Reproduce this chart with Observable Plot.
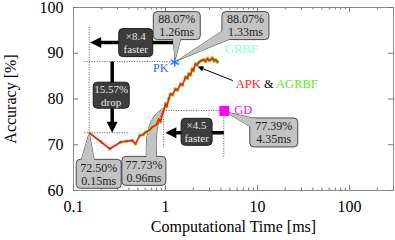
<!DOCTYPE html>
<html><head><meta charset="utf-8">
<script src="https://cdn.jsdelivr.net/npm/d3@7"></script>
<script src="https://cdn.jsdelivr.net/npm/@observablehq/plot@0.6"></script>
<style>body{margin:0;background:#fff} #chart svg{display:block}</style>
</head><body><div id="chart"></div>
<script>
// ---- data ----
const curveTime = [0.15, 0.20, 0.248, 0.324, 0.377, 0.435, 0.472, 0.526, 0.573, 0.607, 0.675, 0.716, 0.798, 0.846, 0.88, 0.96, 1.0, 1.03, 1.087, 1.13, 1.19, 1.28, 1.35, 1.46, 1.53, 1.65, 1.73, 1.79, 1.87, 1.95, 2.01, 2.12, 2.20, 2.30, 2.46, 2.61, 2.72, 2.86, 3.01, 3.22, 3.37, 3.49, 3.67];
const curveAcc  = [72.5, 70.6, 69.1, 70.56, 70.78, 70.93, 70.2, 72.0, 72.24, 72.74, 73.27, 73.84, 74.36, 75.67, 75.0, 77.73, 78.95, 78.3, 80.04, 81.1, 80.9, 82.2, 81.97, 83.3, 83.06, 84.8, 84.5, 85.5, 85.25, 86.6, 86.2, 87.7, 87.4, 88.05, 88.4, 88.6, 88.2, 88.85, 88.4, 88.96, 88.3, 88.6, 88.1];
const pkTime = 1.26, grbfTime = 1.33, peakAcc = 88.07;
const startTime = 0.15, startAcc = 72.50;
const kneeTime = 0.96, kneeAcc = 77.73;
const gdTime = 4.35, gdAcc = 77.39;
const dropLabel = ["15.57%", "drop"];
const fastPK = ["\u00d78.4", "faster"];
const fastGD = ["\u00d74.5", "faster"];
const xTickValues = [0.1, 1, 10, 100];
const xMinorTicks = [0.2,0.3,0.4,0.5,0.6,0.7,0.8,0.9,2,3,4,5,6,7,8,9,20,30,40,50,60,70,80,90,200,300];
const yTickValues = [60, 70, 80, 90, 100];

const FONT = "Liberation Serif, Times New Roman, serif";
const curve = curveTime.map((t, i) => ({t, acc: curveAcc[i]}));
const fmtMs = v => v.toFixed(2) + "ms";
const fmtPct = v => v.toFixed(2) + "%";

function annotate(index, scales) {
  const X = scales.x, Y = scales.y;
  const g = d3.create("svg:g").attr("font-family", FONT).attr("text-anchor", "middle");
  const dotted = (x1, y1, x2, y2) => g.append("line").attr("x1", x1).attr("y1", y1).attr("x2", x2).attr("y2", y2)
    .attr("stroke", "#555").attr("stroke-width", 1).attr("stroke-dasharray", "1,1.5");
  const arrow = (x1, y1, x2, y2, w, hl, hw) => {
    const dx = x2 - x1, dy = y2 - y1, L = Math.hypot(dx, dy), ux = dx / L, uy = dy / L;
    const bx = x2 - ux * hl, by = y2 - uy * hl;
    g.append("line").attr("x1", x1).attr("y1", y1).attr("x2", bx + ux).attr("y2", by + uy)
      .attr("stroke", "#000").attr("stroke-width", w);
    g.append("path").attr("d", `M${x2},${y2}L${bx - uy * hw},${by + ux * hw}L${bx + uy * hw},${by - ux * hw}Z`).attr("fill", "#000");
  };
  const twoLines = (cx, cy, lines, size, color) => {
    lines.forEach((s, i) => g.append("text").attr("x", cx).attr("y", cy + (i === 0 ? -6.5 : 6.5)).attr("dy", "0.35em")
      .attr("text-anchor", "middle").attr("font-size", size).attr("fill", color).text(s));
  };
  const callout = (cx, cy, w, h, lines, tail) => {
    g.append("path").attr("d", tail).attr("fill", "#c3c3c3").attr("stroke", "#3a3a3a").attr("stroke-width", 0.9);
    g.append("rect").attr("x", cx - w / 2).attr("y", cy - h / 2).attr("width", w).attr("height", h).attr("rx", 4)
      .attr("fill", "#c3c3c3").attr("stroke", "#3a3a3a").attr("stroke-width", 0.9);
    g.append("path").attr("d", tail).attr("fill", "#c3c3c3").attr("stroke", "none");
    twoLines(cx, cy, lines, 12, "#222");
  };
  const darkBox = (cx, cy, w, h, lines) => {
    g.append("rect").attr("x", cx - w / 2).attr("y", cy - h / 2).attr("width", w).attr("height", h).attr("rx", 4)
      .attr("fill", "#3d3d3d").attr("stroke", "#1e1e1e").attr("stroke-width", 1);
    twoLines(cx, cy, lines, 11, "#e6e6e6");
  };
  const P = [X(pkTime), Y(peakAcc)], Q = [X(grbfTime), Y(peakAcc)];
  const S = [X(startTime), Y(startAcc)], K = [X(kneeTime), Y(kneeAcc)], G = [X(gdTime), Y(gdAcc)];

  // dotted guides
  dotted(S[0], S[1], S[0], P[1] - 35);
  dotted(S[0] - 5, P[1], P[0], P[1]);
  dotted(S[0] - 5, S[1], S[0] + 40, S[1]);
  dotted(K[0], K[1], K[0], K[1] + 40);
  dotted(K[0], G[1], G[0], G[1]);
  dotted(G[0], G[1], G[0], G[1] + 46);

  // arrows + dark boxes
  const yA = P[1] - 19;
  arrow(P[0] - 1, yA, S[0] + 1, yA, 3.5, 11, 5.5);
  darkBox((P[0] + S[0]) / 2 + 4, yA, 34, 28, fastPK);
  const xB = S[0] + 23;
  arrow(xB, P[1], xB, S[1], 3.5, 11, 5.5);
  darkBox(xB - 1, (P[1] + S[1]) / 2 - 2, 36, 26, dropLabel);
  const yC = S[1];
  arrow(G[0], yC, K[0] + 2, yC, 3.5, 11, 5.5);
  darkBox((G[0] + K[0]) / 2 + 3, yC - 1, 31, 27, fastGD);

  // callouts
  {
    const cx = P[0] + 2.5, cy = P[1] - 36, w = 47, h = 28, b = cy + h / 2;
    callout(cx, cy, w, h, [fmtPct(peakAcc), fmtMs(pkTime)], `M${cx - 4},${b - 1}L${P[0] + 1},${P[1] - 2}L${cx + 4},${b - 1}Z`);
  }
  {
    const cx = Q[0] + 69, cy = Q[1] - 36, w = 47, h = 28, l = cx - w / 2, b = cy + h / 2;
    callout(cx, cy, w, h, [fmtPct(peakAcc), fmtMs(grbfTime)], `M${l + 1},${b - 9}L${Q[0] + 1},${Q[1] - 1}L${l + 9},${b - 1}Z`);
  }
  {
    const cx = S[0] + 9.5, cy = S[1] + 41, w = 45, h = 29, t = cy - h / 2;
    callout(cx, cy, w, h, [fmtPct(startAcc), fmtMs(startTime)], `M${S[0] - 8},${t + 1}L${S[0]},${S[1]}L${S[0] + 5},${t + 1}Z`);
  }
  {
    const cx = K[0] - 19.5, cy = K[1] + 62, w = 44, h = 29, t = cy - h / 2;
    callout(cx, cy, w, h, [fmtPct(kneeAcc), fmtMs(kneeTime)],
      `M${K[0] - 17},${t + 1}Q${K[0] - 19},${K[1] + 8} ${K[0]},${K[1]}Q${K[0] - 9},${K[1] + 16} ${K[0] - 7},${t + 1}Z`);
  }
  {
    const cx = G[0] + 50, cy = G[1] + 22, w = 48, h = 29, l = cx - w / 2, t = cy - h / 2;
    callout(cx, cy, w, h, [fmtPct(gdAcc), fmtMs(gdTime)], `M${l + 1},${t + 9}L${G[0] + 2},${G[1] + 1.5}L${l + 7},${t + 1}Z`);
  }

  // APK & AGRBF label with thin arrow
  const lx = G[0] + 12, ly = P[1] + 22;
  const txt = g.append("text").attr("x", lx).attr("y", ly).attr("dy", "0.35em").attr("font-size", 12.5).attr("text-anchor", "start");
  txt.append("tspan").attr("fill", "#ff1a1a").text("APK");
  txt.append("tspan").attr("fill", "#000").text(" & ");
  txt.append("tspan").attr("fill", "#55ee22").text("AGRBF");
  arrow(lx - 3, ly - 3, X(2.25), Y(peakAcc) + 5, 1, 6, 2.6);
  return g.node();
}

const W = 395, H = 240, mL = 73, mR = 2, mT = 7, mB = 50;
const fw = W - mL - mR, fh = H - mT - mB;

const chart = Plot.plot({
  width: W, height: H,
  marginLeft: mL, marginRight: mR, marginTop: mT, marginBottom: mB,
  x: {type: "log", domain: [0.1, 300]},
  y: {domain: [60, 100]},
  style: {fontFamily: FONT, fontSize: "16px", background: "#fff", color: "#000"},
  marks: [
    Plot.frame({stroke: "#8c8c8c"}),
    Plot.tickX(xTickValues, {x: d => d, insetTop: fh - 5, stroke: "#777"}),
    Plot.tickX(xTickValues, {x: d => d, insetBottom: fh - 5, stroke: "#777"}),
    Plot.tickX(xMinorTicks, {x: d => d, insetTop: fh - 2.5, stroke: "#777"}),
    Plot.tickX(xMinorTicks, {x: d => d, insetBottom: fh - 2.5, stroke: "#777"}),
    Plot.tickY(yTickValues, {y: d => d, insetRight: fw - 5, stroke: "#777"}),
    Plot.tickY(yTickValues, {y: d => d, insetLeft: fw - 5, stroke: "#777"}),
    Plot.axisX({ticks: xTickValues, tickSize: 0, tickPadding: 10, tickFormat: d => String(d), label: null, fontSize: 16}),
    Plot.axisY({ticks: yTickValues, tickSize: 0, tickPadding: 10, label: null, fontSize: 16}),
    Plot.text(["Computational Time [ms]"], {frameAnchor: "bottom", lineAnchor: "middle", dy: 36, fontSize: 16}),
    Plot.text(["Accuracy [%]"], {frameAnchor: "left", textAnchor: "middle", lineAnchor: "middle", dx: -63, rotate: -90, fontSize: 16}),
    annotate,
    Plot.dot(curve, {x: "t", y: "acc", r: 2, fill: "#66ff33", stroke: "none"}),
    Plot.line(curve, {x: "t", y: "acc", stroke: "#ff1a1a", strokeWidth: 1.8}),
    Plot.dot([grbfTime], {x: d => d, y: () => peakAcc, symbol: "square", r: 3, fill: "#7fffd4"}),
    Plot.dot([pkTime], {x: d => d, y: () => peakAcc, symbol: "asterisk", r: 4.5, stroke: "#2a66ff", strokeWidth: 1.3}),
    Plot.dot([gdTime], {x: d => d, y: () => gdAcc, symbol: "square", r: 5.6, fill: "#ff00ff"}),
    Plot.text(["PK"], {x: () => pkTime, y: () => peakAcc, dx: -14, dy: 6, fill: "#2a66ff", fontSize: 12}),
    Plot.text(["GRBF"], {x: () => grbfTime, y: () => peakAcc, dx: 64.5, dy: -13, fill: "#7fffd4", fontSize: 12.5}),
    Plot.text(["GD"], {x: () => gdTime, y: () => gdAcc, dx: 10, dy: -0.5, textAnchor: "start", fill: "#ff00ff", fontSize: 12.5})
  ]
});
document.getElementById("chart").appendChild(chart);
</script>
</body></html>
